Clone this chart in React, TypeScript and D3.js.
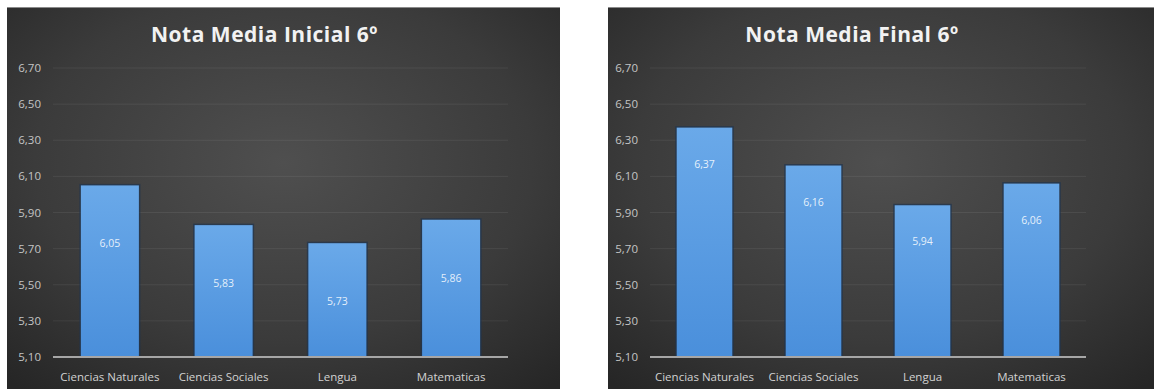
import React from "react";
import * as d3 from "d3";

const categories = ["Ciencias Naturales", "Ciencias Sociales", "Lengua", "Matematicas"];
const initialValues = [6.05, 5.83, 5.73, 5.86];
const finalValues = [6.37, 6.16, 5.94, 6.06];
const yTicks = [5.1, 5.3, 5.5, 5.7, 5.9, 6.1, 6.3, 6.5, 6.7];
const titles = ["Nota Media Inicial 6º", "Nota Media Final 6º"];

const locale = d3.formatLocale({ decimal: ",", thousands: ".", grouping: [3], currency: ["", "€"] });
const fmt = locale.format(".2f");

type PanelProps = {
  id: string;
  title: string;
  values: number[];
  panelX: number;
  panelW: number;
  plotX0: number;
  plotX1: number;
  labelOffset: number;
};

function Panel({ id, title, values, panelX, panelW, plotX0, plotX1, labelOffset }: PanelProps) {
  const y = d3.scaleLinear().domain([5.1, 6.7]).range([357, 68]);
  const x = d3.scaleBand<string>().domain(categories).range([plotX0, plotX1]).paddingInner(0.49).paddingOuter(0.245);
  const titleX = (plotX0 + plotX1) / 2 - 16;
  return (
    <g>
      <defs>
        <radialGradient id={`bg-${id}`} cx="0.5" cy="0.4" r="0.75">
          <stop offset="0" stopColor="#4f4f4f" />
          <stop offset="0.6" stopColor="#3b3b3b" />
          <stop offset="1" stopColor="#262626" />
        </radialGradient>
        <linearGradient id={`bar-${id}`} x1="0" y1="0" x2="0" y2="1">
          <stop offset="0" stopColor="#6aa9e9" />
          <stop offset="1" stopColor="#4a8fdb" />
        </linearGradient>
      </defs>
      <rect x={panelX} y={7} width={panelW} height={389} fill={`url(#bg-${id})`} />
      <line x1={panelX} x2={panelX + panelW} y1={7.5} y2={7.5} stroke="#8a8a8a" strokeWidth={1} />
      {yTicks.map((t) => (
        <g key={t}>
          <line x1={plotX0} x2={plotX1} y1={y(t)} y2={y(t)} stroke="#ffffff" strokeOpacity={0.07} strokeWidth={1} />
          <text x={plotX0 - 12} y={y(t) + 4} textAnchor="end" fontFamily="Open Sans" fontSize={11.5} fill="#c4c4c4">
            {fmt(t)}
          </text>
        </g>
      ))}
      {categories.map((c, i) => (
        <g key={c}>
          <rect
            x={(x(c) as number) - 1.5}
            y={y(values[i]) - 1.5}
            width={x.bandwidth() + 3}
            height={y(5.1) - y(values[i]) + 1.5}
            fill="#1f3550"
            opacity={0.7}
          />
          <rect
            x={x(c) as number}
            y={y(values[i])}
            width={x.bandwidth()}
            height={y(5.1) - y(values[i])}
            fill={`url(#bar-${id})`}
          />
          <text
            x={(x(c) as number) + x.bandwidth() / 2}
            y={y(values[i]) + labelOffset + 4}
            textAnchor="middle"
            fontFamily="Open Sans"
            fontSize={10.5}
            fill="#ffffff"
            fillOpacity={0.85}
          >
            {fmt(values[i])}
          </text>
          <text
            x={(x(c) as number) + x.bandwidth() / 2}
            y={381}
            textAnchor="middle"
            fontFamily="Open Sans"
            fontSize={11.5}
            fill="#d2d2d2"
          >
            {c}
          </text>
        </g>
      ))}
      <line x1={plotX0} x2={plotX1} y1={y(5.1)} y2={y(5.1)} stroke="#a6a6a6" strokeWidth={2} />
      <text x={titleX} y={42} textAnchor="middle" fontFamily="Open Sans" fontWeight={700} fontSize={21} fill="#f2f2f2" letterSpacing={0.5}>
        {title}
      </text>
    </g>
  );
}

export default function App() {
  return (
    <svg width={1154} height={389} style={{ position: "absolute", left: 0, top: 0, background: "#ffffff" }}>
      <Panel id="a" title={titles[0]} values={initialValues} panelX={7} panelW={553} plotX0={53} plotX1={508} labelOffset={58} />
      <Panel id="b" title={titles[1]} values={finalValues} panelX={608} panelW={546} plotX0={650} plotX1={1086} labelOffset={36} />
    </svg>
  );
}
